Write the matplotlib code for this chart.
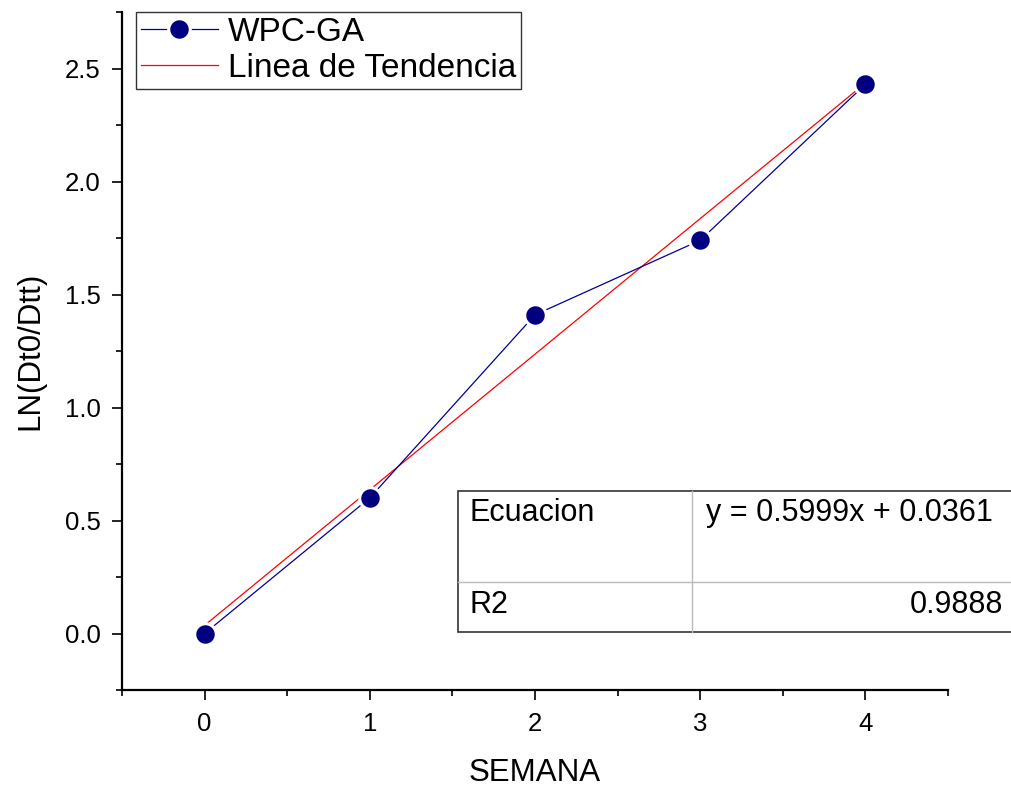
import matplotlib
matplotlib.use('Agg')
import matplotlib.pyplot as plt
from matplotlib.ticker import MultipleLocator, FormatStrFormatter
from matplotlib.lines import Line2D
from matplotlib.patches import Rectangle
import numpy as np

plt.rcParams['font.family'] = ['Liberation Sans', 'DejaVu Sans']

# data
semana = [0, 1, 2, 3, 4]
ln_ratio = [0.0, 0.60, 1.41, 1.74, 2.43]
pendiente = 0.5999
intercepto = 0.0361
r2 = 0.9888

fig = plt.figure(figsize=(10.12, 7.91), dpi=100)
ax = fig.add_axes([122/1012, 1-690/791, (948-122)/1012, (690-12)/791])

# trend line
xt = np.array([semana[0], semana[-1]])
ax.plot(xt, pendiente*xt + intercepto, color='red', lw=0.9, label='Linea de Tendencia', zorder=2)

# measured series
ax.plot(semana, ln_ratio, color='#000099', lw=0.9, marker='o', ms=15.5,
        mfc='#000080', mec='white', mew=2.2, label='WPC-GA', zorder=3)

ax.set_xlim(-0.5, 4.5)
ax.set_ylim(-0.25, 2.75)
ax.xaxis.set_major_locator(MultipleLocator(1))
ax.xaxis.set_minor_locator(MultipleLocator(0.5))
ax.yaxis.set_major_locator(MultipleLocator(0.5))
ax.yaxis.set_minor_locator(MultipleLocator(0.25))
ax.yaxis.set_major_formatter(FormatStrFormatter('%.1f'))

for s in ['top', 'right']:
    ax.spines[s].set_visible(False)
for s in ['left', 'bottom']:
    ax.spines[s].set_linewidth(1.6)
ax.tick_params(which='major', direction='out', length=7.5, width=1.2, labelsize=18.5, pad=8)
ax.tick_params(which='minor', direction='out', length=4, width=1.2)

ax.set_xlabel('SEMANA', fontsize=22.5, labelpad=16)
ax.set_ylabel('LN(Dt0/Dtt)', fontsize=22.5, labelpad=14)

# legend: series first, trend second
handles = [Line2D([], [], color='#000099', lw=0.9, marker='o', ms=15.5,
                  mfc='#000080', mec='white', mew=2.2),
           Line2D([], [], color='red', lw=0.9)]
leg = ax.legend(handles, ['WPC-GA', 'Linea de Tendencia'], loc='upper left',
                bbox_to_anchor=(136/1012, 1-12/791), bbox_transform=fig.transFigure,
                fontsize=24, frameon=True, fancybox=False, borderaxespad=0,
                borderpad=0.15, handlelength=2.3, handletextpad=0.3, labelspacing=0.15)
leg.get_frame().set_edgecolor('black')
leg.get_frame().set_linewidth(1.0)

# fit table
W, H = 1012, 791
def fx(px):
    return px / W
def fy(py):
    return 1 - py / H

fig.add_artist(Rectangle((fx(458), fy(632)), fx(1020) - fx(458), fy(491) - fy(632),
                         transform=fig.transFigure, fill=True, facecolor='white',
                         edgecolor='#333333', lw=1.2, zorder=5))
fig.add_artist(Line2D([fx(692), fx(692)], [fy(632), fy(491)], transform=fig.transFigure,
                      color='#bbbbbb', lw=1.0, zorder=6))
fig.add_artist(Line2D([fx(458), fx(1012)], [fy(582), fy(582)], transform=fig.transFigure,
                      color='#bbbbbb', lw=1.0, zorder=6))
tbl_font = 22
fig.text(fx(470), fy(513), 'Ecuacion', fontsize=tbl_font, va='center', ha='left', zorder=7)
fig.text(fx(706), fy(513), f'y = {pendiente:.4f}x + {intercepto:.4f}', fontsize=tbl_font,
         va='center', ha='left', zorder=7)
fig.text(fx(470), fy(605), 'R2', fontsize=tbl_font, va='center', ha='left', zorder=7)
fig.text(fx(1003), fy(605), f'{r2:.4f}', fontsize=tbl_font, va='center', ha='right', zorder=7)

fig.savefig('out.png', dpi=100)
